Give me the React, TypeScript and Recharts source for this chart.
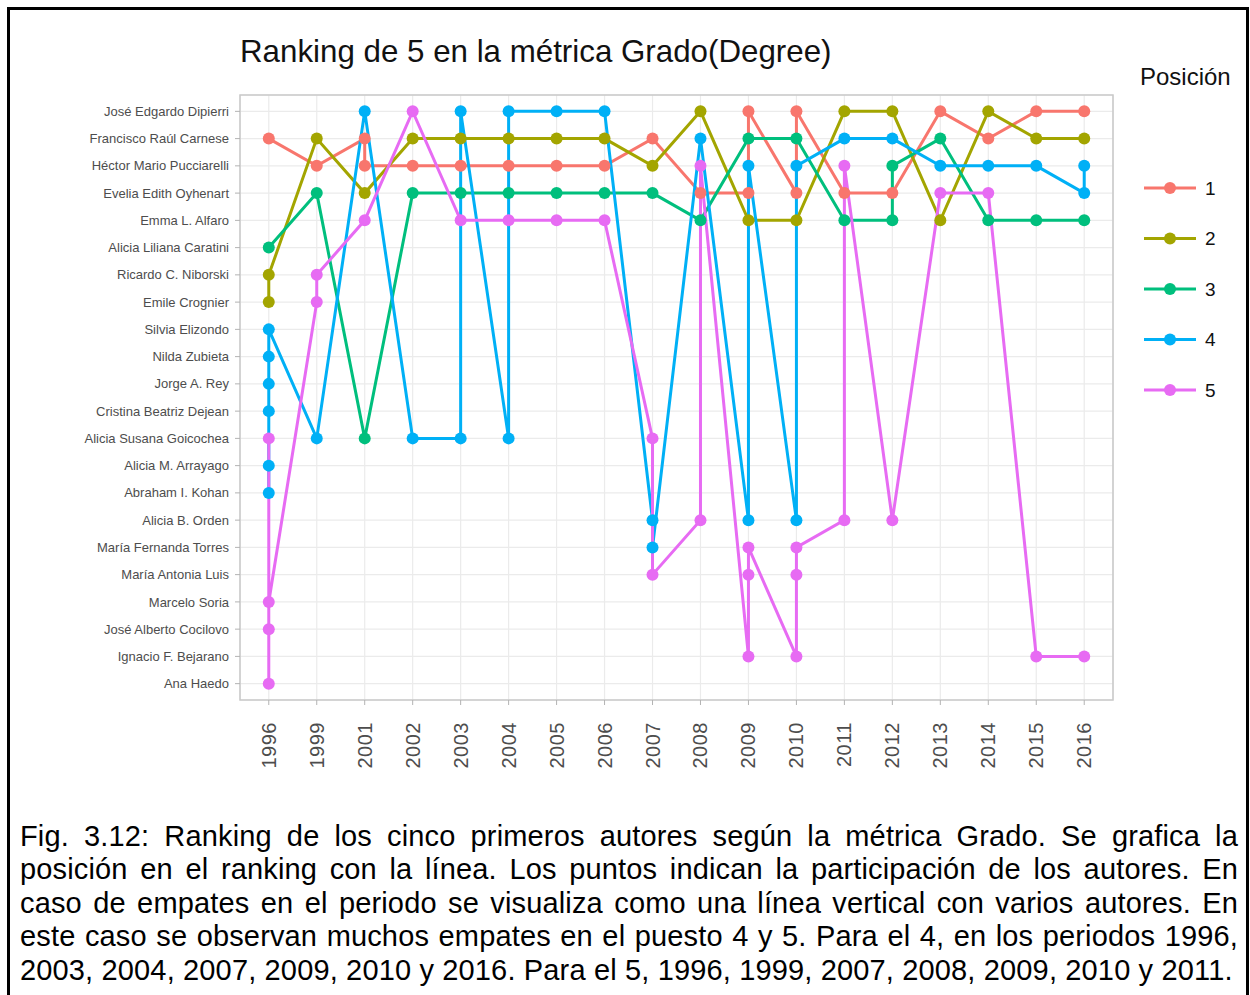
import { ScatterChart, Scatter, XAxis, YAxis, CartesianGrid, ReferenceArea } from "recharts";

const years = [
  "1996", "1999", "2001", "2002", "2003", "2004", "2005", "2006", "2007",
  "2008", "2009", "2010", "2011", "2012", "2013", "2014", "2015", "2016",
];

const authors = [
  "José Edgardo Dipierri",
  "Francisco Raúl Carnese",
  "Héctor Mario Pucciarelli",
  "Evelia Edith Oyhenart",
  "Emma L. Alfaro",
  "Alicia Liliana Caratini",
  "Ricardo C. Niborski",
  "Emile Crognier",
  "Silvia Elizondo",
  "Nilda Zubieta",
  "Jorge A. Rey",
  "Cristina Beatriz Dejean",
  "Alicia Susana Goicochea",
  "Alicia M. Arrayago",
  "Abraham I. Kohan",
  "Alicia B. Orden",
  "María Fernanda Torres",
  "María Antonia Luis",
  "Marcelo Soria",
  "José Alberto Cocilovo",
  "Ignacio F. Bejarano",
  "Ana Haedo",
];

// [year, author] in the order the line visits them
const pos1: [string, string][] = [
  ["1996", "Francisco Raúl Carnese"],
  ["1999", "Héctor Mario Pucciarelli"],
  ["2001", "Francisco Raúl Carnese"],
  ["2001", "Héctor Mario Pucciarelli"],
  ["2002", "Héctor Mario Pucciarelli"],
  ["2003", "Héctor Mario Pucciarelli"],
  ["2004", "Héctor Mario Pucciarelli"],
  ["2005", "Héctor Mario Pucciarelli"],
  ["2006", "Héctor Mario Pucciarelli"],
  ["2007", "Francisco Raúl Carnese"],
  ["2008", "Evelia Edith Oyhenart"],
  ["2009", "Evelia Edith Oyhenart"],
  ["2009", "José Edgardo Dipierri"],
  ["2010", "Evelia Edith Oyhenart"],
  ["2010", "José Edgardo Dipierri"],
  ["2011", "Evelia Edith Oyhenart"],
  ["2012", "Evelia Edith Oyhenart"],
  ["2013", "José Edgardo Dipierri"],
  ["2014", "Francisco Raúl Carnese"],
  ["2015", "José Edgardo Dipierri"],
  ["2016", "José Edgardo Dipierri"],
];

const pos2: [string, string][] = [
  ["1996", "Emile Crognier"],
  ["1996", "Ricardo C. Niborski"],
  ["1999", "Francisco Raúl Carnese"],
  ["2001", "Evelia Edith Oyhenart"],
  ["2002", "Francisco Raúl Carnese"],
  ["2003", "Francisco Raúl Carnese"],
  ["2004", "Francisco Raúl Carnese"],
  ["2005", "Francisco Raúl Carnese"],
  ["2006", "Francisco Raúl Carnese"],
  ["2007", "Héctor Mario Pucciarelli"],
  ["2008", "José Edgardo Dipierri"],
  ["2009", "Emma L. Alfaro"],
  ["2010", "Emma L. Alfaro"],
  ["2011", "José Edgardo Dipierri"],
  ["2012", "José Edgardo Dipierri"],
  ["2013", "Emma L. Alfaro"],
  ["2014", "José Edgardo Dipierri"],
  ["2015", "Francisco Raúl Carnese"],
  ["2016", "Francisco Raúl Carnese"],
];

const pos3: [string, string][] = [
  ["1996", "Alicia Liliana Caratini"],
  ["1999", "Evelia Edith Oyhenart"],
  ["2001", "Alicia Susana Goicochea"],
  ["2002", "Evelia Edith Oyhenart"],
  ["2003", "Evelia Edith Oyhenart"],
  ["2004", "Evelia Edith Oyhenart"],
  ["2005", "Evelia Edith Oyhenart"],
  ["2006", "Evelia Edith Oyhenart"],
  ["2007", "Evelia Edith Oyhenart"],
  ["2008", "Emma L. Alfaro"],
  ["2009", "Francisco Raúl Carnese"],
  ["2010", "Francisco Raúl Carnese"],
  ["2011", "Emma L. Alfaro"],
  ["2012", "Emma L. Alfaro"],
  ["2012", "Héctor Mario Pucciarelli"],
  ["2013", "Francisco Raúl Carnese"],
  ["2014", "Emma L. Alfaro"],
  ["2015", "Emma L. Alfaro"],
  ["2016", "Emma L. Alfaro"],
];

const pos4: [string, string][] = [
  ["1996", "Abraham I. Kohan"],
  ["1996", "Alicia M. Arrayago"],
  ["1996", "Cristina Beatriz Dejean"],
  ["1996", "Jorge A. Rey"],
  ["1996", "Nilda Zubieta"],
  ["1996", "Silvia Elizondo"],
  ["1999", "Alicia Susana Goicochea"],
  ["2001", "José Edgardo Dipierri"],
  ["2002", "Alicia Susana Goicochea"],
  ["2003", "Alicia Susana Goicochea"],
  ["2003", "José Edgardo Dipierri"],
  ["2004", "Alicia Susana Goicochea"],
  ["2004", "José Edgardo Dipierri"],
  ["2005", "José Edgardo Dipierri"],
  ["2006", "José Edgardo Dipierri"],
  ["2007", "Alicia B. Orden"],
  ["2007", "María Fernanda Torres"],
  ["2008", "Francisco Raúl Carnese"],
  ["2009", "Alicia B. Orden"],
  ["2009", "Héctor Mario Pucciarelli"],
  ["2010", "Alicia B. Orden"],
  ["2010", "Héctor Mario Pucciarelli"],
  ["2011", "Francisco Raúl Carnese"],
  ["2012", "Francisco Raúl Carnese"],
  ["2013", "Héctor Mario Pucciarelli"],
  ["2014", "Héctor Mario Pucciarelli"],
  ["2015", "Héctor Mario Pucciarelli"],
  ["2016", "Evelia Edith Oyhenart"],
  ["2016", "Héctor Mario Pucciarelli"],
];

const pos5: [string, string][] = [
  ["1996", "Alicia Susana Goicochea"],
  ["1996", "Ana Haedo"],
  ["1996", "José Alberto Cocilovo"],
  ["1996", "Marcelo Soria"],
  ["1999", "Emile Crognier"],
  ["1999", "Ricardo C. Niborski"],
  ["2001", "Emma L. Alfaro"],
  ["2002", "José Edgardo Dipierri"],
  ["2003", "Emma L. Alfaro"],
  ["2004", "Emma L. Alfaro"],
  ["2005", "Emma L. Alfaro"],
  ["2006", "Emma L. Alfaro"],
  ["2007", "Alicia Susana Goicochea"],
  ["2007", "María Antonia Luis"],
  ["2008", "Alicia B. Orden"],
  ["2008", "Héctor Mario Pucciarelli"],
  ["2009", "Ignacio F. Bejarano"],
  ["2009", "María Antonia Luis"],
  ["2009", "María Fernanda Torres"],
  ["2010", "Ignacio F. Bejarano"],
  ["2010", "María Antonia Luis"],
  ["2010", "María Fernanda Torres"],
  ["2011", "Alicia B. Orden"],
  ["2011", "Héctor Mario Pucciarelli"],
  ["2012", "Alicia B. Orden"],
  ["2013", "Evelia Edith Oyhenart"],
  ["2014", "Evelia Edith Oyhenart"],
  ["2015", "Ignacio F. Bejarano"],
  ["2016", "Ignacio F. Bejarano"],
];

const series = [
  { name: "1", color: "#F8766D", points: pos1 },
  { name: "2", color: "#A3A500", points: pos2 },
  { name: "3", color: "#00BF7D", points: pos3 },
  { name: "4", color: "#00B0F6", points: pos4 },
  { name: "5", color: "#E76BF3", points: pos5 },
];

const captionLines = [
  "Fig. 3.12: Ranking de los cinco primeros autores según la métrica Grado. Se grafica la",
  "posición en el ranking con la línea. Los puntos indican la participación de los autores. En",
  "caso de empates en el periodo se visualiza como una línea vertical con varios autores. En",
  "este caso se observan muchos empates en el puesto 4 y 5. Para el 4, en los periodos 1996,",
  "2003, 2004, 2007, 2009, 2010 y 2016. Para el 5, 1996, 1999, 2007, 2008, 2009, 2010 y 2011.",
];

const FONT = "'Liberation Sans', Arial, sans-serif";

const toXY = (pts: [string, string][]) =>
  pts.map(([yr, au]) => ({ x: years.indexOf(yr), y: authors.indexOf(au) }));

function YearTick(props: any) {
  const { x, y, payload } = props;
  const ty = y + 15;
  return (
    <text
      x={x}
      y={ty}
      transform={`rotate(-90, ${x}, ${ty})`}
      textAnchor="end"
      dominantBaseline="central"
      fill="#4D4D4D"
      fontSize={20}
      letterSpacing={0.5}
      fontFamily={FONT}
    >
      {years[payload.value]}
    </text>
  );
}

export default function App() {
  return (
    <div
      style={{
        position: "absolute",
        left: 0,
        top: 0,
        width: 1250,
        height: 995,
        overflow: "hidden",
        background: "#fff",
        fontFamily: FONT,
      }}
    >
      <div
        style={{
          position: "absolute",
          left: 7,
          top: 7,
          width: 1242,
          height: 1010,
          border: "3px solid #000",
          boxSizing: "border-box",
        }}
      />
      <div
        style={{
          position: "absolute",
          left: 240,
          top: 36,
          fontSize: 31.3,
          lineHeight: "31px",
          color: "#111",
          whiteSpace: "nowrap",
        }}
      >
        Ranking de 5 en la métrica Grado(Degree)
      </div>

      <div style={{ position: "absolute", left: 0, top: 0 }}>
        <ScatterChart width={1250} height={790} margin={{ top: 95, right: 137, left: 0, bottom: 0 }}>
          <CartesianGrid stroke="#EBEBEB" strokeWidth={1.2} />
          <XAxis
            type="number"
            dataKey="x"
            domain={[-0.6, 17.6]}
            ticks={years.map((_, i) => i)}
            interval={0}
            height={90}
            axisLine={false}
            tickLine={{ stroke: "#B3B3B3" }}
            tickSize={5}
            tick={<YearTick />}
            allowDataOverflow
          />
          <YAxis
            type="number"
            dataKey="y"
            domain={[-0.6, 21.6]}
            ticks={authors.map((_, i) => i)}
            interval={0}
            reversed
            width={240}
            axisLine={false}
            tickLine={{ stroke: "#B3B3B3" }}
            tickSize={5}
            tickMargin={6}
            tickFormatter={(v: number) => authors[v]}
            tick={{ fill: "#4D4D4D", fontSize: 13, fontFamily: FONT }}
            allowDataOverflow
          />
          <ReferenceArea
            x1={-0.6}
            x2={17.6}
            y1={-0.6}
            y2={21.6}
            fill="none"
            stroke="#C9C9C9"
            strokeWidth={1.5}
          />
          {series.map((s) => (
            <Scatter
              key={"line" + s.name}
              data={toXY(s.points)}
              line={{ stroke: s.color, strokeWidth: 3 }}
              lineType="joint"
              shape={() => <g />}
              isAnimationActive={false}
            />
          ))}
          {series.map((s) => (
            <Scatter
              key={"pt" + s.name}
              data={toXY(s.points)}
              shape={(p: any) => <circle cx={p.cx} cy={p.cy} r={6} fill={s.color} />}
              isAnimationActive={false}
            />
          ))}
        </ScatterChart>
      </div>

      <svg style={{ position: "absolute", left: 1120, top: 50 }} width={125} height={370}>
        <text x={20} y={34.6} fontSize={24} fill="#111" fontFamily={FONT}>
          Posición
        </text>
        {series.map((s, i) => {
          const cy = 138 + i * 50.5;
          return (
            <g key={s.name}>
              <line x1={24} x2={76} y1={cy} y2={cy} stroke={s.color} strokeWidth={3} />
              <circle cx={50} cy={cy} r={6} fill={s.color} />
              <text x={85} y={cy + 6.8} fontSize={19} fill="#111" fontFamily={FONT}>
                {s.name}
              </text>
            </g>
          );
        })}
      </svg>

      {captionLines.map((line, i) => (
        <div
          key={i}
          style={{
            position: "absolute",
            left: 20,
            top: 819.5 + i * 33.6,
            width: 1218,
            height: 33.6,
            fontSize: 29,
            lineHeight: "33.6px",
            letterSpacing: 0.15,
            color: "#000",
            whiteSpace: "nowrap",
            textAlign: i < captionLines.length - 1 ? "justify" : "left",
            textAlignLast: i < captionLines.length - 1 ? "justify" : "left",
          }}
        >
          {line}
        </div>
      ))}
    </div>
  );
}
